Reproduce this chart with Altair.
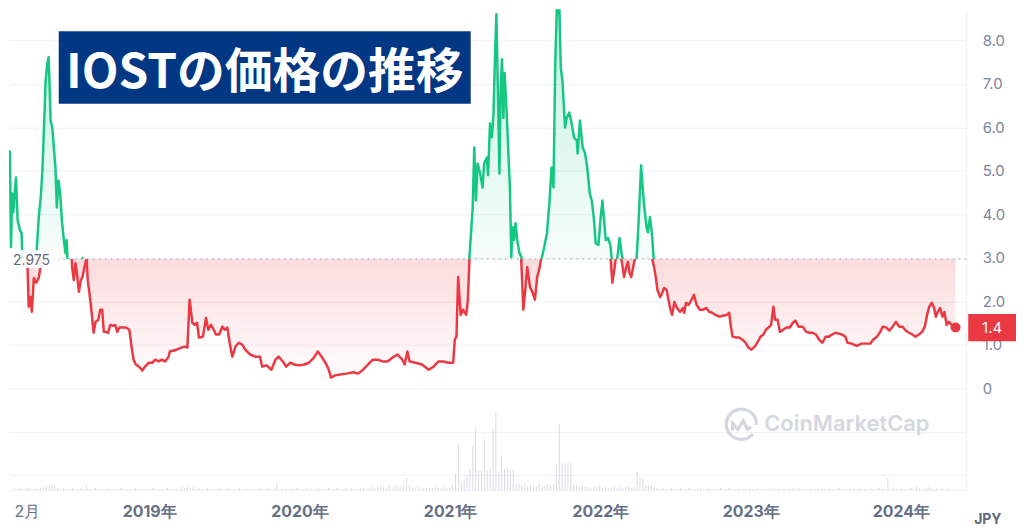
import altair as alt
import pandas as pd
from datetime import datetime, timezone

BASE = 2.975
TITLE = "IOSTの価格の推移"
GREEN = "#16c784"
RED = "#ea3943"
NAVY = "#023784"
GRID = "#eff1f4"

# decimal year of each reading and IOST price (JPY)
years = [
    2018.106, 2018.113, 2018.121, 2018.128, 2018.146, 2018.157, 2018.172, 2018.183, 2018.189, 2018.198,
    2018.209, 2018.219, 2018.232, 2018.248, 2018.265, 2018.276, 2018.284, 2018.296, 2018.309, 2018.320,
    2018.330, 2018.341, 2018.352, 2018.361, 2018.367, 2018.374, 2018.385, 2018.395, 2018.406, 2018.415,
    2018.426, 2018.437, 2018.448, 2018.459, 2018.472, 2018.480, 2018.487, 2018.498, 2018.509, 2018.519,
    2018.532, 2018.545, 2018.556, 2018.569, 2018.583, 2018.591, 2018.602, 2018.617, 2018.630, 2018.643,
    2018.661, 2018.674, 2018.687, 2018.698, 2018.711, 2018.726, 2018.741, 2018.759, 2018.774, 2018.787,
    2018.802, 2018.824, 2018.845, 2018.868, 2018.883, 2018.896, 2018.911, 2018.933, 2018.954, 2018.972,
    2018.998, 2019.020, 2019.041, 2019.063, 2019.085, 2019.106, 2019.129, 2019.137, 2019.183, 2019.215,
    2019.235, 2019.254, 2019.269, 2019.287, 2019.302, 2019.318, 2019.331, 2019.357, 2019.378, 2019.393,
    2019.411, 2019.429, 2019.444, 2019.465, 2019.487, 2019.502, 2019.520, 2019.535, 2019.553, 2019.574,
    2019.596, 2019.618, 2019.639, 2019.672, 2019.705, 2019.737, 2019.752, 2019.781, 2019.813, 2019.840,
    2019.861, 2019.889, 2019.911, 2019.939, 2019.965, 2019.998, 2020.031, 2020.063, 2020.096, 2020.122,
    2020.150, 2020.179, 2020.194, 2020.209, 2020.237, 2020.270, 2020.313, 2020.357, 2020.389, 2020.422,
    2020.455, 2020.487, 2020.520, 2020.552, 2020.585, 2020.618, 2020.650, 2020.683, 2020.698, 2020.716,
    2020.731, 2020.770, 2020.813, 2020.857, 2020.890, 2020.922, 2020.955, 2020.988, 2021.020, 2021.031,
    2021.042, 2021.053, 2021.070, 2021.085, 2021.107, 2021.118, 2021.128, 2021.151, 2021.161, 2021.172,
    2021.183, 2021.200, 2021.216, 2021.226, 2021.244, 2021.252, 2021.265, 2021.277, 2021.288, 2021.298,
    2021.307, 2021.318, 2021.327, 2021.335, 2021.344, 2021.353, 2021.361, 2021.374, 2021.386, 2021.396,
    2021.405, 2021.414, 2021.422, 2021.433, 2021.444, 2021.459, 2021.472, 2021.487, 2021.500, 2021.513,
    2021.531, 2021.549, 2021.564, 2021.579, 2021.596, 2021.607, 2021.622, 2021.640, 2021.657, 2021.670,
    2021.683, 2021.694, 2021.705, 2021.716, 2021.722, 2021.731, 2021.742, 2021.759, 2021.770, 2021.787,
    2021.803, 2021.818, 2021.836, 2021.842, 2021.857, 2021.875, 2021.890, 2021.905, 2021.922, 2021.935,
    2021.948, 2021.961, 2021.979, 2021.992, 2022.005, 2022.020, 2022.027, 2022.042, 2022.057, 2022.070,
    2022.079, 2022.092, 2022.107, 2022.118, 2022.131, 2022.144, 2022.157, 2022.172, 2022.183, 2022.194,
    2022.205, 2022.218, 2022.231, 2022.244, 2022.260, 2022.270, 2022.281, 2022.296, 2022.305, 2022.318,
    2022.331, 2022.342, 2022.357, 2022.368, 2022.379, 2022.397, 2022.412, 2022.423, 2022.440, 2022.449,
    2022.466, 2022.477, 2022.492, 2022.509, 2022.531, 2022.549, 2022.557, 2022.570, 2022.586, 2022.607,
    2022.622, 2022.640, 2022.661, 2022.684, 2022.705, 2022.723, 2022.744, 2022.766, 2022.792, 2022.814,
    2022.840, 2022.857, 2022.868, 2022.879, 2022.901, 2022.922, 2022.945, 2022.966, 2022.984, 2023.005,
    2023.027, 2023.049, 2023.064, 2023.085, 2023.101, 2023.118, 2023.136, 2023.151, 2023.162, 2023.179,
    2023.194, 2023.216, 2023.238, 2023.260, 2023.281, 2023.297, 2023.318, 2023.346, 2023.369, 2023.390,
    2023.412, 2023.434, 2023.455, 2023.477, 2023.499, 2023.520, 2023.542, 2023.564, 2023.586, 2023.607,
    2023.629, 2023.644, 2023.672, 2023.705, 2023.738, 2023.770, 2023.796, 2023.814, 2023.840, 2023.862,
    2023.879, 2023.901, 2023.923, 2023.944, 2023.966, 2023.988, 2024.010, 2024.031, 2024.053, 2024.075,
    2024.096, 2024.119, 2024.140, 2024.158, 2024.173, 2024.188, 2024.205, 2024.220, 2024.231, 2024.244,
    2024.260, 2024.275, 2024.288, 2024.303, 2024.318, 2024.336, 2024.362,
]
prices = [
    5.47, 3.25, 4.48, 4.05, 4.85, 3.87, 3.64, 3.57, 2.95, 1.88,
    2.10, 1.76, 2.54, 2.43, 2.54, 2.79, 3.25, 3.94, 4.39, 5.01,
    5.93, 7.07, 7.46, 7.62, 7.00, 6.16, 6.00, 5.54, 5.08, 4.16,
    4.78, 4.48, 3.87, 3.48, 3.11, 3.41, 2.79, 2.49, 2.88, 2.65,
    2.22, 2.49, 2.56, 2.79, 3.00, 2.49, 2.20, 1.74, 1.28, 1.53,
    1.58, 1.81, 1.81, 1.30, 1.30, 1.28, 1.46, 1.44, 1.46, 1.30,
    1.40, 1.40, 1.40, 1.35, 0.94, 0.66, 0.55, 0.50, 0.41, 0.50,
    0.59, 0.59, 0.66, 0.62, 0.66, 0.62, 0.73, 0.85, 0.89, 0.94,
    0.96, 0.94, 2.04, 1.51, 1.46, 1.51, 1.17, 1.19, 1.62, 1.35,
    1.46, 1.35, 1.24, 1.24, 1.42, 1.35, 1.40, 1.05, 0.73, 0.96,
    1.05, 1.01, 0.89, 0.78, 0.73, 0.73, 0.50, 0.53, 0.43, 0.66,
    0.73, 0.62, 0.50, 0.59, 0.55, 0.53, 0.55, 0.59, 0.71, 0.85,
    0.71, 0.55, 0.43, 0.25, 0.30, 0.32, 0.34, 0.37, 0.34, 0.43,
    0.55, 0.66, 0.66, 0.62, 0.62, 0.71, 0.78, 0.66, 0.55, 0.85,
    0.62, 0.59, 0.55, 0.43, 0.50, 0.62, 0.62, 0.59, 0.59, 1.12,
    1.19, 2.56, 1.69, 1.81, 1.69, 2.04, 2.95, 4.16, 5.54, 4.32,
    5.17, 4.94, 4.62, 5.17, 5.31, 4.90, 6.09, 5.77, 6.32, 7.69,
    8.60, 6.61, 4.94, 6.84, 7.57, 6.22, 7.25, 6.38, 5.40, 4.62,
    3.02, 3.71, 3.41, 3.80, 3.41, 3.11, 3.02, 1.81, 2.27, 2.79,
    2.33, 2.20, 2.04, 2.56, 2.79, 3.02, 3.25, 3.57, 4.32, 5.08,
    4.62, 7.37, 8.79, 8.60, 8.72, 7.37, 7.07, 6.00, 6.22, 6.34,
    6.09, 5.77, 5.70, 5.40, 6.16, 5.54, 5.42, 5.08, 4.48, 4.32,
    3.94, 3.34, 3.30, 3.87, 4.32, 3.71, 3.41, 3.46, 3.30, 2.88,
    2.43, 2.72, 3.11, 3.46, 3.11, 2.88, 2.56, 2.79, 2.91, 2.65,
    2.56, 2.79, 3.02, 3.87, 5.13, 4.62, 4.16, 3.71, 3.59, 3.94,
    3.57, 3.02, 2.79, 2.56, 2.27, 2.10, 2.20, 2.31, 2.27, 2.10,
    1.81, 1.69, 1.99, 1.85, 1.76, 1.85, 1.74, 1.97, 1.92, 2.04,
    2.15, 1.92, 1.81, 1.81, 1.85, 1.76, 1.74, 1.69, 1.65, 1.67,
    1.69, 1.74, 1.42, 1.19, 1.17, 1.17, 1.12, 1.05, 0.94, 0.89,
    0.96, 1.08, 1.19, 1.24, 1.35, 1.40, 1.46, 1.88, 1.58, 1.58,
    1.30, 1.35, 1.40, 1.40, 1.51, 1.56, 1.42, 1.42, 1.30, 1.28,
    1.28, 1.24, 1.12, 1.05, 1.19, 1.19, 1.24, 1.28, 1.26, 1.24,
    1.19, 1.05, 1.03, 0.98, 1.03, 1.03, 1.03, 1.12, 1.19, 1.30,
    1.42, 1.40, 1.33, 1.42, 1.53, 1.42, 1.42, 1.33, 1.28, 1.24,
    1.19, 1.24, 1.30, 1.42, 1.69, 1.88, 1.97, 1.85, 1.65, 1.76,
    1.85, 1.65, 1.76, 1.46, 1.53, 1.46, 1.40,
]

# weekly trading volume (relative units), first week starting 2018-02-08
vol_start = "2018-02-08"
volume = [
    2, 1, 2, 1, 2, 2, 1, 2, 1, 2, 2, 4, 5, 5, 4, 2, 1, 2, 1, 1,
    2, 1, 1, 2, 1, 5, 1, 1, 2, 1, 1, 1, 2, 1, 1, 1, 1, 2, 1, 1,
    1, 1, 2, 1, 1, 1, 1, 1, 2, 1, 1, 1, 1, 2, 1, 1, 2, 1, 3, 2,
    3, 2, 3, 1, 2, 1, 1, 2, 1, 1, 1, 2, 1, 1, 2, 1, 1, 1, 2, 1,
    1, 2, 1, 1, 1, 2, 1, 1, 2, 1, 2, 7, 1, 2, 1, 1, 2, 1, 2, 1,
    1, 2, 1, 1, 1, 2, 2, 1, 1, 2, 1, 1, 2, 1, 1, 2, 1, 2, 1, 1,
    2, 2, 1, 2, 3, 2, 3, 4, 3, 2, 4, 3, 5, 4, 3, 6, 12, 4, 2, 2,
    3, 2, 2, 2, 2, 2, 3, 2, 2, 3, 2, 2, 5, 16, 47, 9, 11, 14, 21, 44,
    62, 19, 19, 51, 19, 21, 61, 79, 19, 34, 21, 22, 19, 21, 6, 7, 5, 6, 4, 5,
    3, 4, 6, 3, 4, 5, 4, 6, 26, 66, 27, 26, 27, 27, 5, 4, 3, 4, 3, 3,
    2, 3, 3, 4, 2, 3, 2, 2, 3, 2, 3, 2, 3, 3, 2, 3, 18, 12, 12, 5,
    4, 4, 3, 2, 1, 2, 1, 1, 2, 1, 1, 2, 1, 1, 2, 1, 1, 1, 2, 1,
    1, 2, 1, 1, 1, 2, 1, 1, 2, 1, 1, 2, 1, 1, 1, 2, 1, 1, 2, 1,
    1, 1, 2, 1, 1, 2, 1, 1, 1, 2, 1, 1, 2, 1, 1, 1, 2, 1, 1, 2,
    1, 1, 1, 2, 1, 1, 2, 1, 1, 1, 2, 1, 1, 2, 1, 1, 1, 2, 1, 1,
    2, 1, 1, 12, 1, 2, 1, 1, 2, 1, 1, 2, 1, 4, 2, 1, 2, 3, 2, 1,
    2, 1, 2, 1, 2,
]

x_start, x_end = 2018.10, 2024.40
tick_years = [2018.10, 2019, 2020, 2021, 2022, 2023, 2024]


def to_ms(y):
    yi = int(y)
    a = datetime(yi, 1, 1, tzinfo=timezone.utc)
    b = datetime(yi + 1, 1, 1, tzinfo=timezone.utc)
    return int((a + (b - a) * (y - yi)).timestamp() * 1000)


df = pd.DataFrame({"t": [to_ms(y) for y in years], "price": prices})
df["up"] = df["price"].clip(lower=BASE)
df["dn"] = df["price"].clip(upper=BASE)
df["base"] = BASE
last = df.tail(1)

vdates = pd.date_range(vol_start, periods=len(volume), freq="7D", tz="UTC")
vdf = pd.DataFrame({"t": (vdates.asi8 // 1_000_000).astype("int64"), "vol": volume})

W = 962
H_TOP = 251
H_BOT = 232
Y_TOP = 8.716
Y_BOT = -2.334

xs = alt.Scale(type="utc", domain=[to_ms(x_start), to_ms(x_end)])
ytop = alt.Scale(domain=[BASE, Y_TOP], nice=False, zero=False)
ybot = alt.Scale(domain=[Y_BOT, BASE], nice=False, zero=False)

yaxis_common = dict(
    orient="right", title=None, ticks=False, labelPadding=16, labelFont="Inter",
    labelFontSize=15, labelColor="#7d8699", gridColor=GRID, grid=True,
    domain=True, domainColor="#eceef2", labelAlign="left",
)
yaxis_top = alt.Axis(values=[3, 4, 5, 6, 7, 8], format=".1f", **yaxis_common)
yaxis_bot = alt.Axis(
    values=[-2, -1, 0, 1, 2],
    labelExpr="datum.value < 0 ? '' : (datum.value == 0 ? '0' : format(datum.value, '.1f'))",
    **yaxis_common,
)
xaxis = alt.Axis(
    values=[to_ms(v) for v in tick_years],
    labelExpr="utcmonth(datum.value) == 0 ? utcFormat(datum.value, '%Y') + '年' : (utcmonth(datum.value) + 1) + '月'",
    labelFont="Inter", labelFontSize=16, labelColor="#667085",
    labelFontWeight={"condition": {"test": "utcmonth(datum.value) == 0", "value": 700}, "value": 400},
    labelAlign={"condition": {"test": "utcmonth(datum.value) == 0", "value": "center"}, "value": "left"},
    labelFlush=False, labelBound=False, ticks=False, grid=False, domain=True, domainColor="#eceef2",
    labelPadding=14, title=None,
)

green_grad = alt.LinearGradient(
    gradient="linear", x1=0, x2=0, y1=0, y2=1,
    stops=[alt.GradientStop(color="rgba(22,199,132,0.26)", offset=0),
           alt.GradientStop(color="rgba(22,199,132,0.03)", offset=1)],
)
red_grad = alt.LinearGradient(
    gradient="linear", x1=0, x2=0, y1=0, y2=1,
    stops=[alt.GradientStop(color="rgba(234,57,67,0.18)", offset=0),
           alt.GradientStop(color="rgba(234,57,67,0.01)", offset=1)],
)

# ---------- top panel (above the reference price) ----------
XT = alt.X("t:T", scale=xs, axis=None)
tb = alt.Chart(df)
g_area = tb.mark_area(fill=green_grad, clip=True).encode(
    x=XT, y=alt.Y("up:Q", scale=ytop, axis=yaxis_top), y2="base:Q",
)
g_line = tb.mark_line(color=GREEN, strokeWidth=2.5, clip=True, strokeJoin="round").encode(
    x=XT, y=alt.Y("price:Q", scale=ytop, axis=yaxis_top),
)
tdf = pd.DataFrame({"title": [TITLE]})
t_box = alt.Chart(tdf).mark_rect(color=NAVY).encode(
    x=alt.value(50), x2=alt.value(464), y=alt.value(22), y2=alt.value(95)
)
t_text = alt.Chart(tdf).mark_text(
    font="Noto Sans CJK JP", fontSize=48, fontWeight="bold", color="white",
    align="center", baseline="alphabetic",
).encode(text="title:N", x=alt.value(257), y=alt.value(79))
top = alt.layer(g_area, g_line, t_box, t_text).properties(width=W, height=H_TOP)

# ---------- bottom panel (below the reference price) ----------
XB = alt.X("t:T", scale=xs, axis=xaxis)
bb = alt.Chart(df)
r_area = bb.mark_area(fill=red_grad, clip=True).encode(
    x=XB, y=alt.Y("dn:Q", scale=ybot, axis=yaxis_bot), y2="base:Q",
)
r_line = bb.mark_line(color=RED, strokeWidth=2.5, clip=True, strokeJoin="round").encode(
    x=XB, y=alt.Y("price:Q", scale=ybot, axis=yaxis_bot),
)
bdf = pd.DataFrame({"base": [BASE], "label": [f"{BASE:.3f}"]})
b_rule = alt.Chart(bdf).mark_rule(color="#aab2c0", strokeDash=[1.5, 4.5], strokeWidth=1.2).encode(
    y=alt.Y("base:Q", scale=ybot, axis=yaxis_bot)
)
b_box = alt.Chart(bdf).mark_rect(color="white", opacity=0.9).encode(
    x=alt.value(0), x2=alt.value(50), y=alt.value(-9), y2=alt.value(9)
)
b_text = alt.Chart(bdf).mark_text(
    font="Inter", fontSize=14, color="#5f6a7d", align="left", baseline="middle"
).encode(text="label:N", x=alt.value(4), y=alt.value(2))

dot = alt.Chart(last).mark_circle(color=RED, size=100, opacity=1).encode(
    x=XB, y=alt.Y("price:Q", scale=ybot, axis=yaxis_bot),
)
badge = alt.Chart(last).mark_point(
    shape="M-1,-0.57L1,-0.57L1,0.57L-1,0.57Z", size=2304, filled=True,
    color=RED, opacity=1, strokeWidth=0,
).encode(x=alt.value(988), y=alt.Y("price:Q", scale=ybot, axis=yaxis_bot))
badge_t = alt.Chart(last).mark_text(
    font="Inter", fontSize=15, color="white", align="center", baseline="middle"
).encode(
    x=alt.value(988), y=alt.Y("price:Q", scale=ybot, axis=yaxis_bot),
    text=alt.Text("price:Q", format=".1f"),
)

wdf = pd.DataFrame({"brand": ["CoinMarketCap"], "cur": ["JPY"]})
logo = alt.Chart(wdf).mark_point(
    shape="M0.72,0.62A0.95,0.95 0 1 1 0.95,0.05M-0.55,0.4L-0.55,-0.05L-0.22,0.32L0.12,-0.22L0.38,0.3L0.62,0.18",
    size=1024, filled=False, color="#d3d8e0", strokeWidth=3.2, opacity=1,
).encode(x=alt.value(736), y=alt.value(166))
brand = alt.Chart(wdf).mark_text(
    font="Inter", fontSize=22, fontWeight=600, color="#d3d8e0", align="left", baseline="alphabetic"
).encode(text="brand:N", x=alt.value(759), y=alt.value(173))
cur = alt.Chart(wdf).mark_text(
    font="Inter", fontSize=14, fontWeight="bold", color="#5f6a7d", align="left", baseline="top"
).encode(text="cur:N", x=alt.value(970), y=alt.value(255))

vol = alt.Chart(vdf).mark_bar(color="#d3d8e1", width=1, opacity=0.9).encode(
    x=XB,
    y=alt.Y("vol:Q", scale=alt.Scale(domain=[0, H_BOT], nice=False), axis=None),
)

price_layers = alt.layer(
    r_area, b_rule, r_line, b_box, b_text, logo, brand, cur, dot, badge, badge_t
)
bottom = alt.layer(price_layers, vol).resolve_scale(y="independent").properties(
    width=W, height=H_BOT
)

chart = (
    alt.vconcat(top, bottom, spacing=0, bounds="flush")
    .properties(
        padding={"left": 0, "top": 0, "right": 0, "bottom": 0},
        background="white",
        autosize=alt.AutoSizeParams(type="pad"),
    )
    .configure_view(strokeWidth=0)
)

chart.save("out.html", embed_options={"renderer": "svg", "actions": False})
